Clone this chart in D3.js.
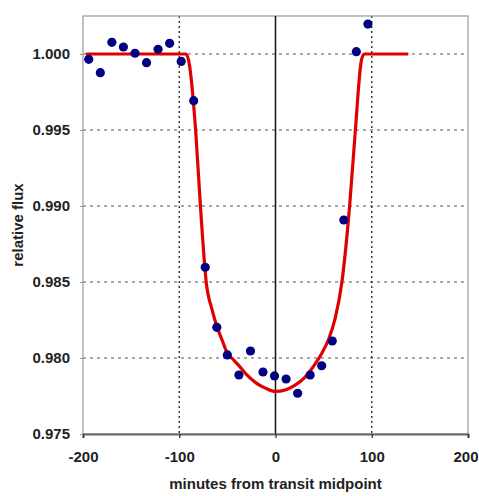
<!DOCTYPE html>
<html>
<head>
<meta charset="utf-8">
<script src="https://cdn.jsdelivr.net/npm/d3@7"></script>
<style>
  body { margin: 0; background: #fff; }
  text { font-family: "Liberation Sans", Arial, sans-serif; font-weight: bold; }
</style>
</head>
<body>
<svg id="chart" width="479" height="496"></svg>
<script>
// observed points (minutes from midpoint, relative flux)
var obsMinutes = [-194, -182, -170, -158, -146, -134, -122, -110, -98, -85, -73, -61, -50,
                  -38, -26, -13, -1, 11, 23, 36, 48, 59, 71, 84, 96];
var obsFlux = [0.99965, 0.99877, 1.00077, 1.00046, 1.00005, 0.99943, 1.00031, 1.0007, 0.99951,
               0.99693, 0.98597, 0.98202, 0.9802, 0.97888, 0.98046, 0.97908, 0.97882, 0.97862,
               0.97768, 0.97888, 0.97949, 0.98112, 0.98908, 1.00015, 1.00197];

// fitted model curve
var modelMinutes = [-197, -93, -90, -83, -78, -72, -66, -61, -55, -50, -44, -38, -30, -20, -10, 0,
                    10, 20, 30, 40, 48, 55, 62, 69, 77, 83, 89, 92, 138];
var modelFlux = [1.000, 1.000, 0.9995, 0.995, 0.990, 0.985, 0.9832, 0.9821, 0.9811, 0.9803, 0.9799,
                 0.9795, 0.9789, 0.97835, 0.9780, 0.9778, 0.9779, 0.9782, 0.9787, 0.9795, 0.9803,
                 0.9812, 0.9826, 0.985, 0.990, 0.995, 0.9995, 1.000, 1.000];

var xTicks = [-200, -100, 0, 100, 200];
var yTicks = [0.975, 0.980, 0.985, 0.990, 0.995, 1.000];

var plotLeft = 83, plotRight = 468, plotTop = 16, plotBottom = 434;
var svg = d3.select("#chart");

var x = d3.scaleLinear().domain([-200, 200]).range([plotLeft, plotRight]);
var y = d3.scaleLinear().domain([0.975, 1.0025]).range([plotBottom, plotTop]);

// horizontal dashed grid
svg.append("g").selectAll("line")
  .data(yTicks.filter(function(d){ return d > 0.975; }))
  .join("line")
  .attr("x1", plotLeft).attr("x2", plotRight)
  .attr("y1", function(d){ return y(d); }).attr("y2", function(d){ return y(d); })
  .attr("stroke", "#555").attr("stroke-width", 1.2)
  .attr("stroke-dasharray", "3,4");

// vertical dotted grid at +-100
svg.append("g").selectAll("line")
  .data([-100, 100])
  .join("line")
  .attr("x1", function(d){ return x(d); }).attr("x2", function(d){ return x(d); })
  .attr("y1", plotTop).attr("y2", plotBottom)
  .attr("stroke", "#222").attr("stroke-width", 1.3)
  .attr("stroke-dasharray", "2,3");

// frame
svg.append("rect")
  .attr("x", plotLeft).attr("y", plotTop)
  .attr("width", plotRight - plotLeft).attr("height", plotBottom - plotTop)
  .attr("fill", "none").attr("stroke", "#999").attr("stroke-width", 1.2);

// zero line
svg.append("line")
  .attr("x1", x(0)).attr("x2", x(0)).attr("y1", plotTop).attr("y2", plotBottom)
  .attr("stroke", "#111").attr("stroke-width", 1.5);

// axes
var xAxis = svg.append("g")
  .attr("transform", "translate(0," + plotBottom + ")")
  .call(d3.axisBottom(x).tickValues(xTicks).tickSize(4).tickPadding(13)
        .tickFormat(function(d){ return String(d); }));
xAxis.select(".domain").attr("stroke", "#666").attr("stroke-width", 2);
xAxis.selectAll(".tick line").attr("stroke", "#333").attr("stroke-width", 1.3);
xAxis.selectAll("text").attr("font-size", 15).attr("fill", "#222");
// keep the last label inside the window
xAxis.selectAll(".tick text").filter(function(d){ return d === 200; })
  .attr("text-anchor", "end").attr("x", 478 - plotRight);

var yAxis = svg.append("g")
  .attr("transform", "translate(" + plotLeft + ",0)")
  .call(d3.axisLeft(y).tickValues(yTicks).tickSize(3).tickPadding(10)
        .tickFormat(d3.format(".3f")));
yAxis.select(".domain").remove();
yAxis.selectAll(".tick line").attr("stroke", "#999");
yAxis.selectAll("text").attr("font-size", 15).attr("fill", "#222");

// model curve
var line = d3.line()
  .x(function(d){ return x(d[0]); })
  .y(function(d){ return y(d[1]); })
  .curve(d3.curveMonotoneX);

svg.append("path")
  .datum(d3.zip(modelMinutes, modelFlux))
  .attr("d", line)
  .attr("fill", "none")
  .attr("stroke", "#e00000")
  .attr("stroke-width", 3.2)
  .attr("stroke-linejoin", "round");

// observations
svg.append("g").selectAll("circle")
  .data(d3.zip(obsMinutes, obsFlux))
  .join("circle")
  .attr("cx", function(d){ return x(d[0]); })
  .attr("cy", function(d){ return y(d[1]); })
  .attr("r", 4.6)
  .attr("fill", "#000080");

// axis titles
svg.append("text")
  .attr("x", (plotLeft + plotRight) / 2).attr("y", 489)
  .attr("text-anchor", "middle")
  .attr("font-size", 15).attr("fill", "#222")
  .text("minutes from transit midpoint");

svg.append("text")
  .attr("transform", "translate(23," + ((plotTop + plotBottom) / 2) + ") rotate(-90)")
  .attr("text-anchor", "middle")
  .attr("font-size", 15).attr("fill", "#222")
  .text("relative flux");
</script>
</body>
</html>
